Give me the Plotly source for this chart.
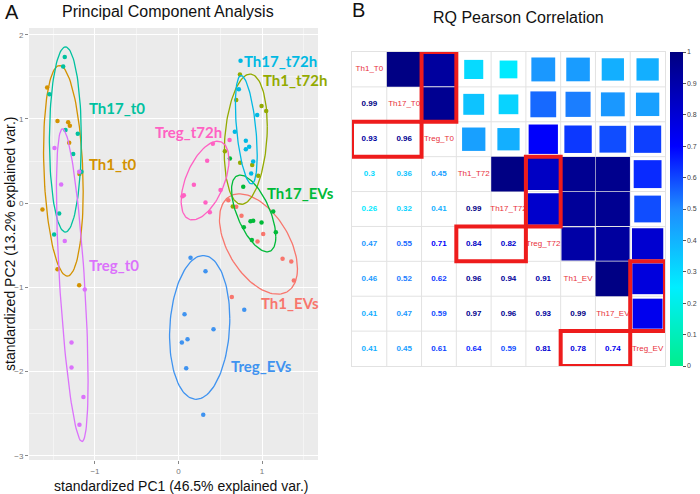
import numpy as np
import plotly.graph_objects as go
from plotly.colors import sample_colorscale

# ---------------- PCA data (panel A) ----------------
groups = ['Th1_EVs', 'Th1_t0', 'Th1_t72h', 'Th17_EVs', 'Th17_t0',
          'Th17_t72h', 'Treg_EVs', 'Treg_t0', 'Treg_t72h']
group_colors = ['#F8766D', '#D39200', '#93AA00', '#00BA38', '#00C19F',
                '#00B9E3', '#3F93F0', '#DB72FB', '#FF61C3']

sample_group = (['Th1_EVs'] * 9 + ['Th1_t0'] * 9 + ['Th1_t72h'] * 9 +
                ['Th17_EVs'] * 9 + ['Th17_t0'] * 9 + ['Th17_t72h'] * 9 +
                ['Treg_EVs'] * 9 + ['Treg_t0'] * 9 + ['Treg_t72h'] * 9)

pc1 = [0.691, 0.754, 1.014, 0.946, 1.246, 1.350, 1.381, 0.638, 0.596,
       -1.573, -1.449, -1.321, -1.301, -1.309, -1.186, -1.629, -1.449, -1.189,
       0.735, 0.691, 0.994, 1.050, 0.555, 0.882, 0.738, 0.954, 0.650,
       0.775, 1.134, 0.782, 0.862, 0.894, 0.994, 1.165, 0.878, 0.615,
       -1.362, -1.381, -1.545, -1.353, -1.206, -1.261, -1.162, -1.429, -1.489,
       0.743, 0.722, 0.942, 0.674, 0.806, 0.846, 0.806, 0.894, 0.870,
       0.144, 0.323, 0.072, 0.419, 0.040, 0.108, 0.092, 0.296, 0.787,
       -1.485, -1.189, -1.405, -1.362, -1.122, -1.281, -1.281, -1.138, -1.186,
       0.411, 0.343, 0.184, 0.064, 0.048, 0.503, 0.323, 0.375, 0.611]

pc2 = [-0.044, -0.151, -0.365, -0.456, -0.659, -0.694, -0.917, -1.115, 0.034,
       1.373, 0.976, 0.960, 0.920, 0.718, 0.345, -0.075, -0.786, -0.976,
       1.527, 1.226, 1.155, 1.095, 0.615, 0.452, 0.480, 0.325, -0.040,
       0.194, -0.099, -0.286, -0.214, -0.210, -0.230, -0.345, -0.437, 0.530,
       1.735, 1.623, 1.294, 0.869, 0.825, 0.583, 0.373, -0.123, -0.373,
       1.690, 1.353, 1.048, 0.849, 0.742, 0.671, 0.639, 0.496, 0.353,
       -0.647, -0.810, -1.318, -1.496, -1.655, -1.615, -1.960, -2.512, -1.266,
       0.655, 0.373, 0.223, -0.448, -1.024, -1.655, -1.952, -2.302, -2.631,
       0.706, 0.504, 0.218, 0.095, 0.083, 0.155, 0.008, -0.107, 0.750]

# where the group names are written (data coords, left edge of text)
label_x = [0.96, -1.09, 0.99, 1.03, -1.09, 0.76, 0.60, -1.09, -0.30]
label_y = [-1.19, 0.46, 1.46, 0.12, 1.13, 1.69, -1.93, -0.73, 0.84]

# ---------------- correlation data (panel B) ----------------
cell_types = ['Th1_T0', 'Th17_T0', 'Treg_T0', 'Th1_T72', 'Th17_T72',
              'Treg_T72', 'Th1_EV', 'Th17_EV', 'Treg_EV']
corr_lower = [
    [],
    [0.99],
    [0.93, 0.96],
    [0.3, 0.36, 0.45],
    [0.26, 0.32, 0.41, 0.99],
    [0.47, 0.55, 0.71, 0.84, 0.82],
    [0.46, 0.52, 0.62, 0.96, 0.94, 0.91],
    [0.41, 0.47, 0.59, 0.97, 0.96, 0.93, 0.99],
    [0.41, 0.45, 0.61, 0.64, 0.59, 0.81, 0.78, 0.74],
]
# highlighted blocks: (first row, last row, first col, last col)
highlights = [(0, 1, 2, 2), (2, 2, 0, 1), (3, 4, 5, 5),
              (5, 5, 3, 4), (6, 7, 8, 8), (8, 8, 6, 7)]

cscale = [[0.0, '#00EE8C'], [0.25, '#00EEFF'], [0.5, '#1E8CFF'],
          [0.7, '#0000FF'], [1.0, '#000080']]

FONT = 'Liberation Sans, Arial, sans-serif'

fig = go.Figure()

# ---- panel A: points + 68% normal ellipses (as in ggbiplot)
pc1 = np.array(pc1)
pc2 = np.array(pc2)
sg = np.array(sample_group)
ed = np.sqrt(-2 * np.log(1 - 0.68))
theta = np.linspace(0, 2 * np.pi, 120)
circle = np.column_stack([np.cos(theta), np.sin(theta)])
for g, c in zip(groups, group_colors):
    m = sg == g
    pts = np.column_stack([pc1[m], pc2[m]])
    mu = pts.mean(axis=0)
    sigma = np.cov(pts, rowvar=False)
    ell = ed * circle @ np.linalg.cholesky(sigma).T + mu
    fig.add_trace(go.Scatter(x=ell[:, 0], y=ell[:, 1], mode='lines',
                             line=dict(color=c, width=1.3), hoverinfo='skip',
                             showlegend=False, xaxis='x', yaxis='y'))
    fig.add_trace(go.Scatter(x=pc1[m], y=pc2[m], mode='markers', name=g,
                             marker=dict(color=c, size=4.5), showlegend=False,
                             xaxis='x', yaxis='y'))

for g, c, lx, ly in zip(groups, group_colors, label_x, label_y):
    fig.add_annotation(x=lx, y=ly, xref='x', yref='y', text='<b>' + g + '</b>',
                       showarrow=False, xanchor='left', yanchor='middle',
                       font=dict(family='Lato, sans-serif', size=15, color=c))

# grey panel background
fig.add_shape(type='rect', xref='x domain', yref='y domain', x0=0, x1=1, y0=0, y1=1,
              fillcolor='#EBEBEB', line_width=0, layer='below')

# ---- panel B: corrplot (numbers below, squares above the diagonal)
n = len(cell_types)
tx, ty, tt, tc = [], [], [], []
for i, row in enumerate(corr_lower):
    for j, r in enumerate(row):
        col = sample_colorscale(cscale, [r])[0]
        # lower triangle: number
        tx.append(j); ty.append(i); tt.append(str(r)); tc.append(col)
        # upper triangle: square, area proportional to r
        h = np.sqrt(abs(r)) / 2
        fig.add_shape(type='rect', xref='x2', yref='y2',
                      x0=i - h, x1=i + h, y0=j - h, y1=j + h,
                      fillcolor=col, line_width=0, layer='between')

fig.add_trace(go.Scatter(x=tx, y=ty, text=tt, mode='text', hoverinfo='skip',
                         textfont=dict(family=FONT, size=8, color=tc, weight='bold'),
                         showlegend=False, xaxis='x2', yaxis='y2'))
fig.add_trace(go.Scatter(x=list(range(n)), y=list(range(n)), text=cell_types,
                         mode='text', hoverinfo='skip',
                         textfont=dict(family=FONT, size=8, color='#E8303A'),
                         showlegend=False, xaxis='x2', yaxis='y2'))

# colour bar
fig.add_trace(go.Scatter(x=[0, 0], y=[0, 0], mode='markers', hoverinfo='skip',
                         marker=dict(color=[0, 1], colorscale=cscale, cmin=0, cmax=1,
                                     opacity=0, size=1, showscale=True,
                                     colorbar=dict(x=670 / 700, xanchor='left',
                                                   y=1 - 52 / 494, yanchor='top',
                                                   len=314 / 494, lenmode='fraction',
                                                   thickness=13, outlinewidth=0,
                                                   xpad=0, ypad=0,
                                                   tickvals=[i / 10 for i in range(11)],
                                                   ticktext=['0', '0.1', '0.2', '0.3', '0.4', '0.5',
                                                             '0.6', '0.7', '0.8', '0.9', '1'],
                                                   ticks='outside', ticklen=3,
                                                   tickcolor='#555',
                                                   tickfont=dict(size=7, color='#444'))),
                         showlegend=False, xaxis='x2', yaxis='y2'))

for (r0, r1, c0, c1) in highlights:
    fig.add_shape(type='rect', xref='x2', yref='y2',
                  x0=c0 - 0.5, x1=c1 + 0.5, y0=r0 - 0.5, y1=r1 + 0.5,
                  line=dict(color='#EE1C1C', width=4), layer='above')

# ---- titles / labels
def paper_text(px, py, text, size, angle=0, anchor='center'):
    fig.add_annotation(x=px / 700, y=1 - py / 494, xref='paper', yref='paper',
                       text=text, showarrow=False, textangle=angle,
                       xanchor=anchor, yanchor='middle',
                       font=dict(size=size, color='#111'))

paper_text(3, 12, 'A', 20, anchor='left')
paper_text(350, 10, 'B', 20, anchor='left')
paper_text(168, 11, 'Principal Component Analysis', 16)
paper_text(518, 17, 'RQ Pearson Correlation', 16)
paper_text(181, 486, 'standardized PC1 (46.5% explained var.)', 14)
paper_text(10, 244, 'standardized PC2 (13.2% explained var.)', 14, angle=-90)

axis_a = dict(showgrid=True, gridcolor='white', gridwidth=1.3, zeroline=False,
              ticks='outside', ticklen=3, tickcolor='#888',
              tickfont=dict(size=8, color='#777'),
              minor=dict(showgrid=True, gridcolor='#F4F4F4', gridwidth=0.6, dtick=0.5))
axis_b = dict(range=[-0.5, n - 0.5], showgrid=False, zeroline=False,
              showticklabels=False, showline=True, mirror=True,
              linecolor='#E2E2E2', linewidth=1, ticks='')

fig.update_layout(
    width=700, height=494,
    margin=dict(l=0, r=0, t=0, b=0, autoexpand=False),
    paper_bgcolor='white', plot_bgcolor='white',
    font=dict(family=FONT),
    xaxis=dict(domain=[29 / 700, 318 / 700], range=[-1.79, 1.67],
               tickvals=[-1, 0, 1], anchor='y', **axis_a),
    yaxis=dict(domain=[1 - 460 / 494, 1 - 28 / 494], range=[-3.05, 2.08],
               tickvals=[-3, -2, -1, 0, 1, 2], anchor='x', **axis_a),
    xaxis2=dict(domain=[352 / 700, 665 / 700], anchor='y2', **axis_b),
    yaxis2=dict(domain=[1 - 366 / 494, 1 - 52 / 494], anchor='x2',
                autorange=False, **{**axis_b, 'range': [n - 0.5, -0.5]}),
)
# cell grid
for k in range(1, n):
    fig.add_shape(type='line', xref='x2', yref='y2', x0=k - 0.5, x1=k - 0.5,
                  y0=-0.5, y1=n - 0.5, line=dict(color='#E2E2E2', width=1), layer='below')
    fig.add_shape(type='line', xref='x2', yref='y2', y0=k - 0.5, y1=k - 0.5,
                  x0=-0.5, x1=n - 0.5, line=dict(color='#E2E2E2', width=1), layer='below')

# page body has an 8px default margin; drop it so the figure sits at the corner
fig.write_html('out.html', config={'displayModeBar': False},
               post_script="document.body.style.margin='0px';")
